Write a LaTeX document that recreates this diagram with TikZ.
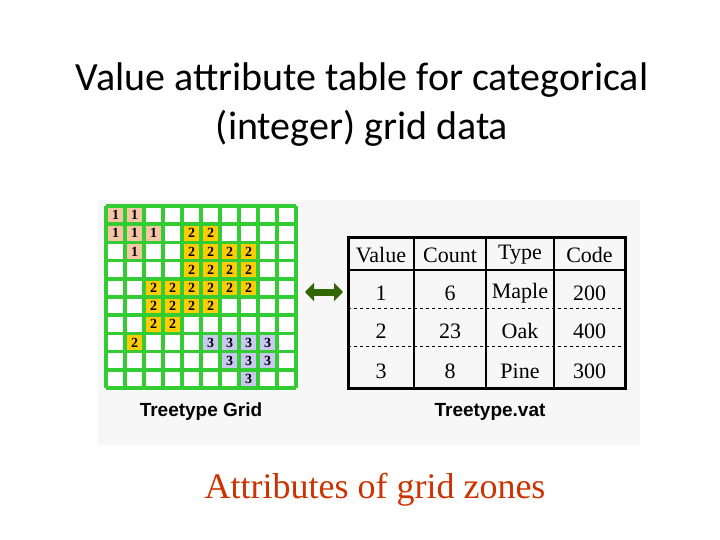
\documentclass[tikz,border=0pt]{standalone}
\usepackage{fontspec}
\setmainfont{Liberation Serif}
\newfontfamily\carlito{Carlito}
\newfontfamily\arial{Liberation Sans}
\usetikzlibrary{arrows.meta}
\definecolor{gg}{HTML}{33CC33}
\definecolor{c1}{HTML}{F5C6A5}
\definecolor{c2}{HTML}{FFCC00}
\definecolor{c3}{HTML}{C8C8F0}
\definecolor{dg}{HTML}{336600}
\definecolor{rt}{HTML}{CC3300}
\begin{document}
\begin{tikzpicture}[x=1pt,y=-1pt,
 cellnum/.style={font=\bfseries\fontsize{14}{14}\selectfont},
 tcell/.style={font=\fontsize{22}{22}\selectfont},
 captxt/.style={font=\arial\bfseries\fontsize{19}{19}\selectfont}]
\useasboundingbox (0,0) rectangle (720,540);
\fill[white] (0,0) rectangle (720,540);
\fill[black!3] (98,200) rectangle (640,445);
\node[font=\carlito\fontsize{40}{40}\selectfont] (t1) at (362,80) {Value attribute table for categorical};
\node[font=\carlito\fontsize{40}{40}\selectfont] (t2) at (362,128) {(integer) grid data};
% grid
\def\cw{19}\def\ch{18.2}
\fill[white] (106,206) rectangle (296,388);
\foreach \c/\r/\v in {0/0/1,1/0/1,0/1/1,1/1/1,2/1/1,1/2/1,
 4/1/2,5/1/2,4/2/2,5/2/2,6/2/2,7/2/2,4/3/2,5/3/2,6/3/2,7/3/2,
 2/4/2,3/4/2,4/4/2,5/4/2,6/4/2,7/4/2,2/5/2,3/5/2,4/5/2,5/5/2,2/6/2,3/6/2,1/7/2,
 5/7/3,6/7/3,7/7/3,8/7/3,6/8/3,7/8/3,8/8/3,7/9/3}{
 \fill[c\v] ({106+\c*\cw},{206+\r*\ch}) rectangle ++(\cw,\ch);
 \node[cellnum] at ({106+\c*\cw+\cw/2},{206+\r*\ch+\ch/2}) {\v};
}
\foreach \i in {0,...,10}{
 \draw[gg,line width=3.5pt] ({106+\i*\cw},206) -- ({106+\i*\cw},388);
 \draw[gg,line width=3.5pt] (106,{206+\i*\ch}) -- (296,{206+\i*\ch});
}
\node[captxt] (gl) at (201,412) {Treetype Grid};
% arrow
\coordinate (a1) at (305,292); \coordinate (a2) at (343,292);
\draw[dg,line width=7pt,{Triangle[length=9pt,width=18pt]}-{Triangle[length=9pt,width=18pt]}] (a1) -- (a2);
% table
\draw[line width=1pt,dashed] (348,308) -- (625,308);
\draw[line width=1pt,dashed] (348,346) -- (625,346);
\draw[line width=2.5pt] (348,270) -- (625,270);
\foreach \x in {414,486,554}{\draw[line width=1.5pt] (\x,237) -- (\x,388);}
\draw[line width=3pt] (348,237) rectangle (625,388);
\foreach \x/\a/\b/\c/\d in {381/Value/1/2/3,450/Count/6/23/8,520/Type/Maple/Oak/Pine,589.5/Code/200/400/300}{
 \node[tcell] at (\x,255) {\a};
 \node[tcell] at (\x,293) {\b};
 \node[tcell] at (\x,331) {\c};
 \node[tcell] at (\x,371) {\d};
}
\node[captxt] (tl) at (490,412) {Treetype.vat};
\node[font=\fontsize{36}{36}\selectfont,text=rt] (bt) at (375,490) {Attributes of grid zones};
\end{tikzpicture}
\end{document}
